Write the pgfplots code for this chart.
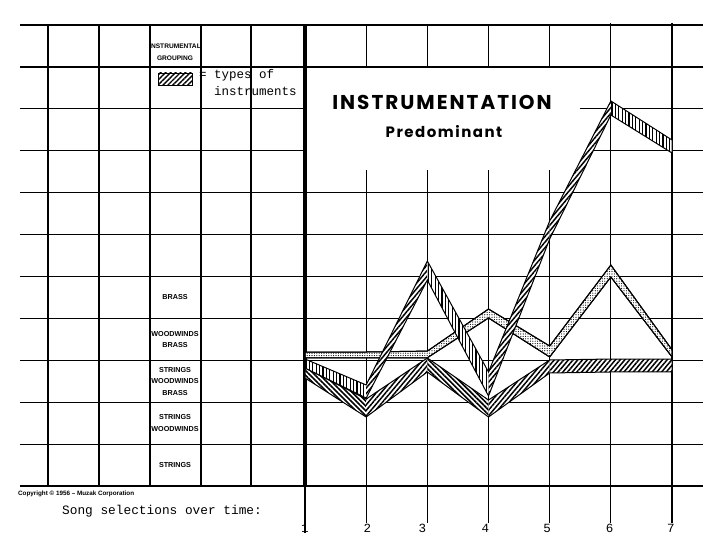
\documentclass[border=0pt]{standalone}
\usepackage{fontspec}
\setmainfont{Liberation Sans}
\newfontfamily\tw{Liberation Mono}
\newfontfamily\titlefont{Poppins}[LetterSpace=10]
\usepackage{pgfplots}
\pgfplotsset{compat=1.18}
\usetikzlibrary{patterns.meta}
\tikzset{
  gl/.style={line width=1.2pt, black},
  ne/.style={fill=white, draw=none, postaction={pattern={Lines[angle=50,distance=3.6pt,line width=1.5pt]}, pattern color=black}},
  nw/.style={fill=white, draw=none, postaction={pattern={Lines[angle=-45,distance=3.5pt,line width=1.6pt]}, pattern color=black}},
  vl/.style={fill=white, draw=none, postaction={pattern={Lines[angle=90,distance=3.4pt,line width=1.3pt]}, pattern color=black}},
  st/.style={fill=white, draw=black, line width=1pt, postaction={pattern={Dots[distance=2.4pt,radius=0.6pt]}, pattern color=black}},
  edge/.style={draw=black, line width=1pt, fill=none},
  lab/.style={font=\fontsize{7.2}{11.5}\selectfont\bfseries, align=center, inner sep=0pt},
  num/.style={anchor=north, inner sep=0pt, font=\tw\fontsize{12.5}{14}\selectfont},
}
\begin{document}
\begin{tikzpicture}
\begin{axis}[
  scale only axis, width=716pt, height=550pt,
  xmin=-3.986, xmax=7.719, ymin=-1.527, ymax=11.599,
  hide axis, clip=false, no markers,
]
\path (rel axis cs:0,0) rectangle (rel axis cs:1,1);
% ---- grid (decoration) ----
\draw[gl] (axis cs:-3.659,11) -- (axis cs:7.507,11);
\draw[gl] (axis cs:-3.659,10) -- (axis cs:7.507,10);
\draw[gl] (axis cs:-3.659,9) -- (axis cs:1,9);
\draw[gl] (axis cs:5.496,9) -- (axis cs:7.507,9);
\draw[gl] (axis cs:-3.659,8) -- (axis cs:1,8);
\draw[gl] (axis cs:5.708,8) -- (axis cs:7.507,8);
\draw[gl] (axis cs:-3.659,7) -- (axis cs:7.507,7);
\draw[gl] (axis cs:-3.659,6) -- (axis cs:7.507,6);
\draw[gl] (axis cs:-3.659,5) -- (axis cs:7.507,5);
\draw[gl] (axis cs:-3.659,4) -- (axis cs:7.507,4);
\draw[gl] (axis cs:-3.659,3) -- (axis cs:7.507,3);
\draw[gl] (axis cs:-3.659,2) -- (axis cs:7.507,2);
\draw[gl] (axis cs:-3.659,1) -- (axis cs:7.507,1);
\draw[gl] (axis cs:-3.659,0) -- (axis cs:7.507,0);
\draw[gl] (axis cs:-3.201,0) -- (axis cs:-3.201,11);
\draw[gl] (axis cs:-2.368,0) -- (axis cs:-2.368,11);
\draw[gl] (axis cs:-1.534,0) -- (axis cs:-1.534,11);
\draw[gl] (axis cs:-0.700,0) -- (axis cs:-0.700,11);
\draw[gl] (axis cs:0.117,0) -- (axis cs:0.117,11);
\draw[black, line width=4pt] (axis cs:1,0) -- (axis cs:1,11.02);
\draw[gl] (axis cs:1,0) -- (axis cs:1,-1.12);
\draw[gl] (axis cs:2,11) -- (axis cs:2,10);
\draw[gl] (axis cs:3,11) -- (axis cs:3,10);
\draw[gl] (axis cs:4,11) -- (axis cs:4,10);
\draw[gl] (axis cs:5,11) -- (axis cs:5,10);
\draw[gl] (axis cs:2,7.54) -- (axis cs:2,-0.88);
\draw[gl] (axis cs:3,7.54) -- (axis cs:3,-0.88);
\draw[gl] (axis cs:4,7.54) -- (axis cs:4,-0.88);
\draw[gl] (axis cs:5,7.54) -- (axis cs:5,-0.88);
\draw[gl] (axis cs:6,11.05) -- (axis cs:6,-0.88);
\draw[gl] (axis cs:7,11.05) -- (axis cs:7,-0.88);
% ---- stippled series ----
\addplot[st] coordinates {(1,3.198) (2,3.198) (3,3.22) (4,4.224) (5,3.341) (6,5.274) (7,3.25) (7,3.079) (6,4.988) (5,3.079) (4,4.010) (3,3.06) (2,3.055) (1,3.055)} -- cycle;
% ---- bottom series ----
\addplot[nw] coordinates {(1,2.816) (2,2.076) (2,1.647) (1,2.578)} -- cycle;
\addplot[ne] coordinates {(2,2.076) (3,3.055) (3,2.721) (2,1.647)} -- cycle;
\addplot[nw] coordinates {(3,3.055) (4,2.053) (4,1.647) (3,2.721)} -- cycle;
\addplot[ne] coordinates {(4,2.053) (5,3.007) (5,2.697) (4,1.647)} -- cycle;
\addplot[ne] coordinates {(5,3.007) (6,3.031) (7,3.031) (7,2.721) (6,2.721) (5,2.697)} -- cycle;
\addplot[edge] coordinates {(1,2.816) (2,2.076) (3,3.055) (4,2.053) (5,3.007) (6,3.031) (7,3.031) (7,2.721) (6,2.721) (5,2.697) (4,1.647) (3,2.721) (2,1.647) (1,2.578)} -- cycle;
% ---- top series ----
\addplot[vl] coordinates {(1,3.031) (2,2.411) (2,2.100) (1,2.816)} -- cycle;
\addplot[ne] coordinates {(2,2.411) (3,5.370) (3,4.916) (2,2.100)} -- cycle;
\addplot[vl] coordinates {(3,5.370) (4,2.721) (4,2.148) (3,4.916)} -- cycle;
\addplot[ne] coordinates {(4,2.721) (5,6.325) (5,5.895) (4,2.148)} -- cycle;
\addplot[ne] coordinates {(5,6.325) (6,9.189) (6,8.854) (5,5.895)} -- cycle;
\addplot[vl] coordinates {(6,9.189) (7,8.258) (7,7.947) (6,8.854)} -- cycle;
\addplot[edge] coordinates {(1,3.031) (2,2.411) (3,5.370) (4,2.721) (5,6.325) (6,9.189) (7,8.258) (7,7.947) (6,8.854) (5,5.895) (4,2.148) (3,4.916) (2,2.100) (1,2.816)} -- cycle;
% ---- texts ----
\node[lab, font=\fontsize{6.6}{12}\selectfont\bfseries] at (axis cs:-1.125,10.36) {INSTRUMENTAL\\GROUPING};
\draw[black, line width=0.9pt, fill=white, postaction={pattern={Lines[angle=45,distance=3.5pt,line width=1.4pt]}, pattern color=black}] (axis cs:-1.403,9.857) rectangle (axis cs:-0.847,9.570);
\node[anchor=west, inner sep=0pt, font=\tw\fontsize{12.5}{14}\selectfont] at (axis cs:-0.733,9.80) {= types of};
\node[anchor=west, inner sep=0pt, font=\tw\fontsize{12.5}{14}\selectfont] at (axis cs:-0.488,9.42) {instruments};
\node[inner sep=0pt, font=\titlefont\bfseries\fontsize{20}{24}\selectfont] at (axis cs:3.24,9.165) {INSTRUMENTATION};
\node[inner sep=0pt, font=\titlefont\bfseries\fontsize{15}{17}\selectfont] at (axis cs:3.272,8.449) {Predominant};
\node[lab] at (axis cs:-1.125,4.5) {BRASS};
\node[lab] at (axis cs:-1.125,3.5) {WOODWINDS\\BRASS};
\node[lab] at (axis cs:-1.125,2.5) {STRINGS\\WOODWINDS\\BRASS};
\node[lab] at (axis cs:-1.125,1.5) {STRINGS\\WOODWINDS};
\node[lab] at (axis cs:-1.125,0.5) {STRINGS};
\node[anchor=west, inner sep=0pt, font=\fontsize{6.3}{7}\selectfont\bfseries] at (axis cs:-3.692,-0.191) {Copyright © 1956 -- Muzak Corporation};
\node[anchor=west, inner sep=0pt, font=\tw\fontsize{12.8}{14}\selectfont] at (axis cs:-2.973,-0.597) {Song selections over time:};
\node[num] at (axis cs:1.0,-0.90) {1};
\node[num] at (axis cs:2.02,-0.90) {2};
\node[num] at (axis cs:2.92,-0.90) {3};
\node[num] at (axis cs:3.95,-0.90) {4};
\node[num] at (axis cs:4.96,-0.90) {5};
\node[num] at (axis cs:5.98,-0.90) {6};
\node[num] at (axis cs:6.98,-0.90) {7};
\end{axis}
\end{tikzpicture}
\end{document}
